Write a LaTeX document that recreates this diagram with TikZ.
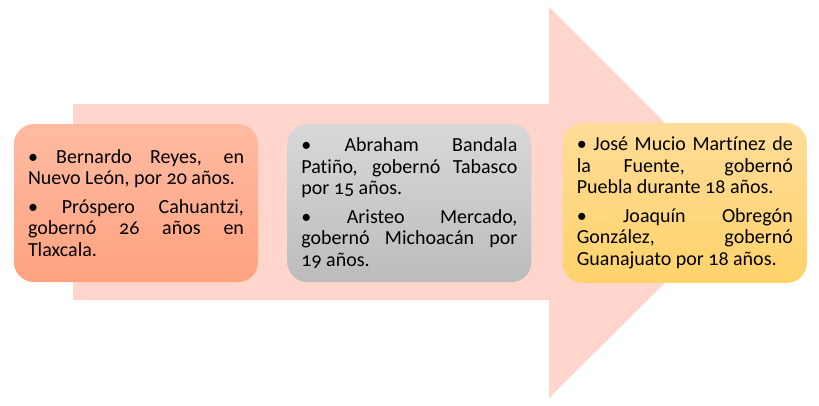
\documentclass[tikz,border=0pt]{standalone}
\usepackage{fontspec}
\setmainfont[Numbers=OldStyle,Ligatures=NoCommon]{Carlito}
\usepackage{tikz}
\usetikzlibrary{positioning}
\usepackage{xcolor}
\definecolor{ArrowPink}{HTML}{FFD5CC}
\definecolor{SalmonTop}{HTML}{FFBBA2}
\definecolor{SalmonBot}{HTML}{FFA27F}
\definecolor{GrayTop}{HTML}{D8D8D8}
\definecolor{GrayBot}{HTML}{BCBCBC}
\definecolor{GoldTop}{HTML}{FFDD98}
\definecolor{GoldBot}{HTML}{FFD26A}

\begin{document}
\begin{tikzpicture}[x=1pt,y=-1pt,
    govbox/.style={rounded corners=20pt,minimum width=244pt,minimum height=158pt,
      inner sep=14pt,text width=216pt,align=justify,
      font=\fontsize{20}{21.5}\selectfont\setlength\parindent{0pt}},
    node distance=30pt]
    \useasboundingbox (0,0) rectangle (819,405);
    % big background arrow
    \fill[ArrowPink] (73,104) -- (549,104) -- (549,7) -- (745,203)
      -- (549,398) -- (549,300) -- (73,300) -- cycle;
    \node[govbox,top color=SalmonTop,bottom color=SalmonBot] (reyes) at (136,203)
      {• Bernardo Reyes, en\linebreak Nuevo León, por 20 años.\par\vspace{7pt}
       • Próspero Cahuantzi,\linebreak gobernó 26 años en\linebreak Tlaxcala.};
    \node[govbox,top color=GrayTop,bottom color=GrayBot,right=29pt of reyes] (bandala)
      {• Abraham Bandala\linebreak Patiño, gobernó Tabasco\linebreak por 15 años.\par\vspace{7pt}
       • Aristeo Mercado,\linebreak gobernó Michoacán por\linebreak 19 años.};
    \node[govbox,top color=GoldTop,bottom color=GoldBot,right=31pt of bandala] (mucio)
      {• José Mucio Martínez de\linebreak la Fuente, gobernó\linebreak Puebla durante 18 años.\par\vspace{7pt}
       • Joaquín Obregón\linebreak González, gobernó\linebreak Guanajuato por 18 años.};
  \end{tikzpicture}
\end{document}
